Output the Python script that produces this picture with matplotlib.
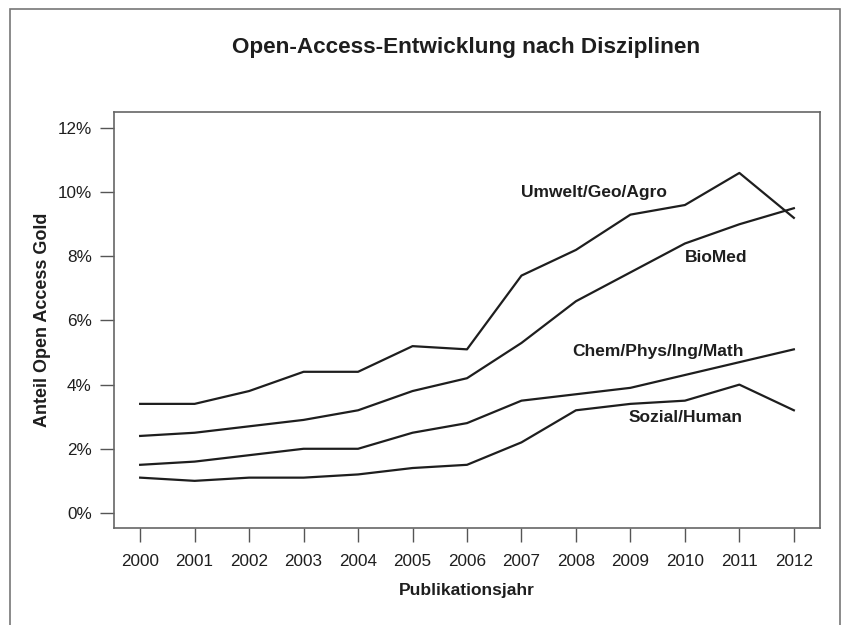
import numpy as np
import matplotlib
matplotlib.use("Agg")
import matplotlib.pyplot as plt
from matplotlib.patches import Rectangle

plt.rcParams['font.family'] = ['Liberation Sans', 'DejaVu Sans']

years = np.arange(2000, 2013)
umwelt = [3.4, 3.4, 3.8, 4.4, 4.4, 5.2, 5.1, 7.4, 8.2, 9.3, 9.6, 10.6, 9.2]
biomed = [2.4, 2.5, 2.7, 2.9, 3.2, 3.8, 4.2, 5.3, 6.6, 7.5, 8.4, 9.0, 9.5]
chem = [1.5, 1.6, 1.8, 2.0, 2.0, 2.5, 2.8, 3.5, 3.7, 3.9, 4.3, 4.7, 5.1]
sozial = [1.1, 1.0, 1.1, 1.1, 1.2, 1.4, 1.5, 2.2, 3.2, 3.4, 3.5, 4.0, 3.2]

series = [
    ("Umwelt/Geo/Agro", umwelt, (2008.33, 10.0)),
    ("BioMed", biomed, (2010.57, 7.97)),
    ("Chem/Phys/Ing/Math", chem, (2009.5, 5.02)),
    ("Sozial/Human", sozial, (2010.02, 2.96)),
]

fig = plt.figure(figsize=(8.46, 6.25), dpi=100)
ax = fig.add_axes([114 / 846, 1 - 528 / 625, (820 - 114) / 846, (528 - 112) / 625])

for name, vals, (lx, ly) in series:
    ax.plot(years, vals, color="#1e1e1e", lw=1.6)
    ax.text(lx, ly, name, ha="center", va="center", fontsize=12.5,
            fontweight="bold", color="#1e1e1e")

ax.set_xlim(1999.52, 2012.48)
ax.set_ylim(-0.47, 12.5)
ax.set_xticks(years)
ax.set_xticklabels([str(y) for y in years])
ax.set_yticks(range(0, 13, 2))
ax.set_yticklabels([f"{v}%" for v in range(0, 13, 2)])
ax.tick_params(length=10, width=1, color="#555555", labelsize=12.3,
               labelcolor="#1e1e1e", pad=6)
ax.tick_params(axis="x", pad=9)
for sp in ax.spines.values():
    sp.set_color("#666666")
    sp.set_linewidth(1.2)

ax.set_xlabel("Publikationsjahr", fontsize=12.5, fontweight="bold",
              color="#1e1e1e")
ax.xaxis.set_label_coords(0.5, -(591 - 528) / 416)
ax.set_ylabel("Anteil Open Access Gold", fontsize=13, fontweight="bold",
              color="#1e1e1e")
ax.yaxis.set_label_coords((43 - 114) / 706, 0.5)
ax.xaxis.label.set_va("center")
ax.yaxis.label.set_va("center")

fig.text(0.551, 1 - 47 / 625, "Open-Access-Entwicklung nach Disziplinen",
         ha="center", va="center", fontsize=16.2, fontweight="bold",
         color="#1e1e1e")

# outer frame, open at the bottom
fig.patches.append(Rectangle((10 / 846, -0.05), (840 - 10) / 846, 1 - 9 / 625 + 0.05,
                             transform=fig.transFigure, fill=False,
                             edgecolor="#777777", lw=1.2))

fig.savefig("out.png", dpi=100)
